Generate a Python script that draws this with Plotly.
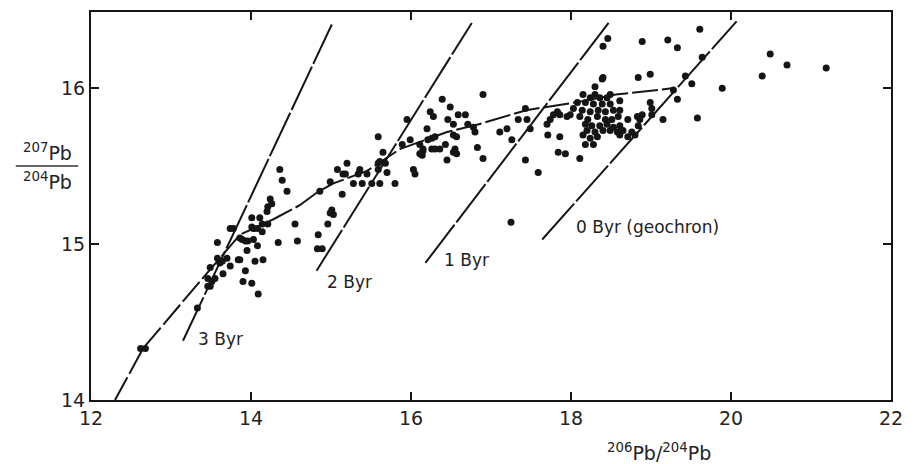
import plotly.graph_objects as go

# ---- data ----
pb206 = [12.62, 12.68, 13.33, 13.46, 13.49, 13.46, 13.51, 13.55, 13.65, 13.49, 13.74,
         13.61, 13.58, 13.64, 13.70, 13.84, 13.86, 14.05, 14.15, 13.93, 13.90, 14.01,
         14.09, 13.95, 14.08, 13.58, 13.89, 13.93, 13.96, 14.03, 13.86, 13.74, 13.78,
         14.01, 14.03, 14.08, 14.14, 14.01, 14.11, 14.14, 14.21, 14.20, 14.21, 14.26,
         14.24, 14.36, 14.39, 14.45, 14.34, 14.58, 14.55,
         14.83, 14.89, 14.84, 14.96, 15.01, 15.03, 14.99, 14.86, 14.99, 15.14, 15.08,
         15.20, 15.18, 15.15, 15.36, 15.34, 15.45, 15.28, 15.39, 15.51, 15.61, 15.80,
         15.59, 15.65, 15.68, 15.61, 15.70, 15.59, 15.59, 15.95, 15.89, 15.99, 16.03,
         16.05,
         16.11, 16.14, 16.15, 16.11, 16.15, 16.20, 16.24, 16.28, 16.26, 16.30, 16.21,
         16.30, 16.26, 16.36, 16.43, 16.39, 16.49, 16.59, 16.68, 16.46, 16.53, 16.71,
         16.78, 16.80, 16.53, 16.57, 16.55, 16.57, 16.45, 16.53, 16.83, 16.90, 16.90,
         17.11, 17.20, 17.34, 17.43, 17.45, 17.26, 17.49, 17.43, 17.59, 17.25, 17.70,
         17.74, 17.78, 17.83, 17.86, 17.95, 17.99, 17.71, 17.86, 17.84, 17.93, 18.11,
         18.39, 18.30, 18.15, 18.24, 18.30, 18.36, 18.45, 18.49, 18.08, 18.18, 18.28,
         18.39, 18.49, 18.61, 18.03, 18.14, 18.24, 18.34, 18.43, 18.53, 18.61, 18.11,
         18.21, 18.33, 18.43, 18.51, 18.59, 18.18, 18.26, 18.36, 18.45, 18.53, 18.61,
         18.71, 18.83, 18.89, 18.20, 18.30, 18.40, 18.49, 18.58, 18.65, 18.76, 18.84,
         18.86, 18.15, 18.24, 18.33, 18.61, 18.71, 18.80, 18.18, 18.28, 18.99, 19.01,
         19.01, 19.15,
         18.40, 18.84, 18.99, 18.46, 18.40, 18.89, 19.21, 19.33, 19.28, 19.33, 19.43,
         19.61, 19.64, 19.51, 19.89, 19.58, 20.39, 20.49, 20.70, 21.19]
pb207 = [14.33, 14.33, 14.59, 14.73, 14.73, 14.78, 14.76, 14.78, 14.81, 14.85, 14.86,
         14.88, 14.91, 14.89, 14.91, 14.90, 14.90, 14.89, 14.90, 14.83, 14.76, 14.75,
         14.68, 14.96, 14.99, 15.01, 15.03, 15.02, 15.02, 15.03, 15.04, 15.10, 15.10,
         15.11, 15.10, 15.10, 15.08, 15.17, 15.17, 15.13, 15.13, 15.21, 15.24, 15.26,
         15.29, 15.48, 15.41, 15.34, 15.01, 15.02, 15.13,
         14.97, 14.97, 15.06, 15.13, 15.22, 15.19, 15.20, 15.34, 15.40, 15.32, 15.48,
         15.52, 15.45, 15.45, 15.48, 15.45, 15.45, 15.39, 15.39, 15.39, 15.39, 15.39,
         15.52, 15.59, 15.52, 15.53, 15.46, 15.48, 15.69, 15.80, 15.64, 15.67, 15.48,
         15.45,
         15.64, 15.57, 15.61, 15.58, 15.60, 15.74, 15.85, 15.82, 15.68, 15.69, 15.67,
         15.61, 15.61, 15.61, 15.64, 15.93, 15.88, 15.83, 15.83, 15.80, 15.77, 15.77,
         15.75, 15.72, 15.70, 15.69, 15.61, 15.58, 15.54, 15.59, 15.62, 15.96, 15.55,
         15.72, 15.74, 15.80, 15.87, 15.80, 15.67, 15.74, 15.54, 15.46, 15.14, 15.77,
         15.80, 15.83, 15.85, 15.83, 15.82, 15.83, 15.70, 15.69, 15.59, 15.58, 15.55,
         16.06, 16.01, 15.96, 15.94, 15.96, 15.94, 15.94, 15.96, 15.91, 15.91, 15.90,
         15.90, 15.90, 15.92, 15.87, 15.86, 15.85, 15.86, 15.85, 15.86, 15.86, 15.82,
         15.80, 15.82, 15.80, 15.80, 15.82, 15.77, 15.76, 15.76, 15.77, 15.75, 15.76,
         15.80, 15.82, 15.83, 15.73, 15.72, 15.73, 15.73, 15.72, 15.73, 15.72, 15.76,
         15.80, 15.70, 15.68, 15.69, 15.70, 15.69, 15.70, 15.64, 15.64, 15.91, 15.87,
         15.83, 15.80,
         16.07, 16.07, 16.09, 16.32, 16.27, 16.30, 16.31, 16.26, 15.99, 15.93, 16.08,
         16.38, 16.20, 16.03, 16.00, 15.81, 16.08, 16.22, 16.15, 16.13]

# growth curve
curve_x = [12.30, 12.65, 13.36, 13.86, 14.28, 14.61, 14.82, 15.03, 15.45, 15.86,
           16.45, 16.85, 17.44, 18.06, 18.56, 19.26]
curve_y = [14.00, 14.33, 14.76, 15.06, 15.16, 15.25, 15.33, 15.39, 15.47, 15.61,
           15.72, 15.77, 15.86, 15.91, 15.96, 16.00]

# isochrons (start, end)
iso_names = ["3 Byr", "2 Byr", "1 Byr", "0 Byr (geochron)"]
iso_x = [[13.15, 15.01], [14.82, 16.76], [16.18, 18.47], [17.64, 20.07]]
iso_y = [[14.38, 16.41], [14.83, 16.42], [14.88, 16.42], [15.03, 16.43]]
label_x = [13.31, 14.93, 16.39, 18.04]
label_y = [14.39, 14.76, 14.90, 15.11]

x_ticks = [12, 14, 16, 18, 20, 22]
y_ticks = [14, 15, 16]

ink = "#151515"
font = "DejaVu Sans"

fig = go.Figure()
for xs, ys in zip(iso_x, iso_y):
    fig.add_trace(go.Scatter(x=xs, y=ys, mode="lines",
                             line=dict(color=ink, width=2, dash="48px,3px"),
                             hoverinfo="skip", showlegend=False))
fig.add_trace(go.Scatter(x=curve_x, y=curve_y, mode="lines",
                         line=dict(color=ink, width=2, dash="26px,4px"),
                         hoverinfo="skip", showlegend=False))
fig.add_trace(go.Scatter(x=pb206, y=pb207, mode="markers",
                         marker=dict(color=ink, size=7),
                         showlegend=False))

for name, lx, ly in zip(iso_names, label_x, label_y):
    fig.add_annotation(x=lx, y=ly, text=name, showarrow=False,
                       xanchor="left", yanchor="middle",
                       font=dict(family=font, size=17, color="#222"))

# axis titles
fig.add_annotation(xref="paper", yref="paper", x=0.71, y=-0.133,
                   text="<sup>206</sup>Pb/<sup>204</sup>Pb", showarrow=False,
                   xanchor="center", yanchor="middle",
                   font=dict(family=font, size=19, color="#222"))
fig.add_annotation(xref="paper", yref="paper", x=-0.055, y=0.64,
                   text="<sup>207</sup>Pb", showarrow=False,
                   xanchor="center", yanchor="middle",
                   font=dict(family=font, size=19, color="#222"))
fig.add_annotation(xref="paper", yref="paper", x=-0.055, y=0.565,
                   text="<sup>204</sup>Pb", showarrow=False,
                   xanchor="center", yanchor="middle",
                   font=dict(family=font, size=19, color="#222"))
fig.add_shape(type="line", xref="paper", yref="paper",
              x0=-0.094, x1=-0.016, y0=0.603, y1=0.603,
              line=dict(color="#333", width=1.5))

axis_common = dict(showgrid=False, zeroline=False, showline=True, linewidth=2,
                   linecolor=ink, mirror="ticks", ticks="inside", ticklen=8,
                   tickwidth=1.8, tickcolor=ink,
                   tickfont=dict(family=font, size=19, color="#222"))
fig.update_xaxes(range=[12, 22], tickvals=x_ticks, **axis_common)
fig.update_yaxes(range=[14, 16.49], tickvals=y_ticks, **axis_common)

fig.update_layout(width=919, height=464, margin=dict(l=91, r=28, t=10, b=64),
                  paper_bgcolor="white", plot_bgcolor="white")

fig.write_html("out.html")
